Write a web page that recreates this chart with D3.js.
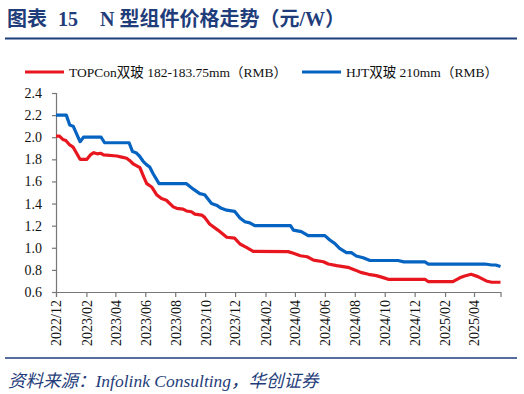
<!DOCTYPE html>
<html>
<head>
<meta charset="utf-8">
<script src="https://cdn.jsdelivr.net/npm/d3@7"></script>
<style>
  html, body { margin: 0; padding: 0; background: #fff; }
  svg { display: block; }
</style>
</head>
<body>
<div id="chart"></div>
<script>
'use strict'

// ---- data ----
var seriesNames = ["TOPCon双玻 182-183.75mm（RMB）", "HJT双玻 210mm（RMB）"];

var topconDates = ["2022-12-01","2022-12-08","2022-12-15","2022-12-21","2022-12-29","2023-01-05","2023-01-19","2023-02-02",
    "2023-02-09","2023-02-16","2023-02-23","2023-03-02","2023-03-08","2023-04-04","2023-04-14","2023-04-24","2023-04-30",
    "2023-05-07","2023-05-11","2023-05-21","2023-05-29","2023-06-04","2023-06-14","2023-06-24","2023-07-04","2023-07-14",
    "2023-07-28","2023-08-04","2023-08-17","2023-08-24","2023-09-03","2023-09-10","2023-09-24","2023-09-30","2023-10-10",
    "2023-10-27","2023-11-14","2023-11-30","2023-12-11","2023-12-24","2024-01-07","2024-03-18","2024-03-29","2024-04-12",
    "2024-04-26","2024-05-09","2024-05-29","2024-06-08","2024-06-25","2024-07-18","2024-08-01","2024-08-15","2024-08-29",
    "2024-09-14","2024-09-28","2024-10-08","2024-12-22","2024-12-29","2025-02-17","2025-03-03","2025-03-13","2025-03-26",
    "2025-04-09","2025-04-26","2025-05-07","2025-05-25"];
var topconPrices = [2.01,2.01,1.98,1.97,1.93,1.91,1.80,1.80,
    1.84,1.86,1.85,1.855,1.84,1.83,1.82,1.81,1.79,
    1.76,1.75,1.725,1.64,1.58,1.55,1.48,1.445,1.43,
    1.37,1.357,1.35,1.333,1.326,1.305,1.296,1.275,1.215,
    1.16,1.095,1.087,1.034,1.004,0.968,0.965,0.95,0.928,
    0.919,0.889,0.874,0.853,0.838,0.823,0.80,0.775,0.76,
    0.748,0.73,0.715,0.715,0.693,0.693,0.728,0.745,0.76,
    0.739,0.70,0.688,0.688];

var hjtDates = ["2022-12-01","2022-12-22","2022-12-29","2023-01-05","2023-01-19","2023-01-26","2023-03-03","2023-03-10",
    "2023-04-29","2023-05-06","2023-05-13","2023-05-20","2023-05-28","2023-06-04","2023-06-10","2023-06-17","2023-06-29",
    "2023-08-24","2023-09-07","2023-09-20","2023-09-30","2023-10-14","2023-10-24","2023-11-03","2023-11-14","2023-11-30",
    "2023-12-11","2023-12-21","2023-12-31","2024-01-10","2024-03-23","2024-03-29","2024-04-14","2024-04-28","2024-06-01",
    "2024-06-11","2024-06-21","2024-07-01","2024-07-15","2024-07-25","2024-08-04","2024-08-18","2024-09-01","2024-10-28",
    "2024-11-09","2024-12-22","2024-12-29","2025-04-23","2025-05-07","2025-05-15","2025-05-25"];
var hjtPrices = [2.20,2.20,2.11,2.10,1.96,2.00,2.00,1.95,
    1.95,1.87,1.86,1.83,1.78,1.75,1.73,1.67,1.58,
    1.58,1.53,1.49,1.48,1.40,1.385,1.357,1.34,1.33,
    1.27,1.236,1.225,1.20,1.20,1.16,1.146,1.11,1.11,
    1.07,1.04,0.995,0.956,0.956,0.926,0.91,0.885,0.885,
    0.872,0.872,0.853,0.853,0.844,0.844,0.83];

var yTicks = [0.6,0.8,1.0,1.2,1.4,1.6,1.8,2.0,2.2,2.4];
var xTickLabels = ["2022/12","2023/02","2023/04","2023/06","2023/08","2023/10","2023/12",
    "2024/02","2024/04","2024/06","2024/08","2024/10","2024/12","2025/02","2025/04"];

var titleParts = ["图表", "15", "N 型组件价格走势（元/W）"];

var seriesColors = ["#E8161E", "#0563C1"];
var navy = "#1F3D7A";
var serif = "'Liberation Serif','Times New Roman','Noto Sans CJK SC',serif";

// ---- canvas ----
var width = 524, height = 394;
var svg = d3.select("#chart").append("svg")
    .attr("width", width)
    .attr("height", height);

// title + rules
var titleX = [7, 58, 100];
svg.append("text")
    .attr("y", 26)
    .attr("font-family", serif)
    .attr("font-weight", "bold")
    .attr("font-size", "20px")
    .attr("fill", navy)
    .selectAll("tspan")
    .data(titleParts)
    .enter()
    .append("tspan")
    .attr("x", function(d, i){ return titleX[i]; })
    .text(function(d){ return d; });

svg.append("line")
    .attr("x1", 5).attr("x2", 517)
    .attr("y1", 38.5).attr("y2", 38.5)
    .attr("stroke", navy)
    .attr("stroke-width", 2);

svg.append("line")
    .attr("x1", 5).attr("x2", 517)
    .attr("y1", 358).attr("y2", 358)
    .attr("stroke", navy)
    .attr("stroke-width", 1.5);

svg.append("text")
    .attr("x", 8)
    .attr("y", 387)
    .attr("font-family", serif)
    .attr("font-style", "italic")
    .attr("font-size", "17.5px")
    .attr("fill", navy)
    .text("资料来源：Infolink Consulting，华创证券");

// ---- scales ----
var parse = d3.timeParse("%Y-%m-%d");
var x = d3.scaleTime()
    .domain([parse("2022-12-01"), parse("2025-05-25")])
    .range([56, 500.5]);
var y = d3.scaleLinear()
    .domain([0.6, 2.4])
    .range([292, 93]);

// ---- axes ----
var yAxis = svg.append("g")
    .attr("transform", "translate(56,0)")
    .call(d3.axisLeft(y).tickValues(yTicks).tickSize(4).tickPadding(10).tickFormat(d3.format(".1f")));

var xTickDates = xTickLabels.map(function(s){ return d3.timeParse("%Y/%m")(s); });
var xAxis = svg.append("g")
    .attr("transform", "translate(0,292)")
    .call(d3.axisBottom(x).tickValues(xTickDates).tickSize(5).tickFormat(d3.timeFormat("%Y/%m")));

[yAxis, xAxis].forEach(function(ax){
    ax.select(".domain").attr("stroke", "#777").attr("stroke-width", 1.2);
    ax.selectAll(".tick line").attr("stroke", "#777").attr("stroke-width", 1.2);
    ax.selectAll("text")
        .attr("font-family", serif)
        .attr("font-size", "14px")
        .attr("fill", "#111");
});

xAxis.selectAll("text")
    .attr("transform", "rotate(-90)")
    .attr("text-anchor", "end")
    .attr("dy", "0.35em")
    .attr("x", -8)
    .attr("y", 0);

// ---- lines ----
var lineGen = d3.line()
    .x(function(d){ return x(d[0]); })
    .y(function(d){ return y(d[1]); });

var series = [
    topconDates.map(function(dt, i){ return [parse(dt), topconPrices[i]]; }),
    hjtDates.map(function(dt, i){ return [parse(dt), hjtPrices[i]]; })
];

svg.append("g")
    .selectAll("path")
    .data(series)
    .enter()
    .append("path")
    .attr("d", lineGen)
    .attr("fill", "none")
    .attr("stroke", function(d, i){ return seriesColors[i]; })
    .attr("stroke-width", 3.2)
    .attr("stroke-linejoin", "round");

// ---- legend ----
var legendX = [25, 302];
var legend = svg.append("g")
    .selectAll("g")
    .data(seriesNames)
    .enter()
    .append("g")
    .attr("transform", function(d, i){ return "translate(" + legendX[i] + ",72)"; });

legend.append("line")
    .attr("x1", 0).attr("x2", 39)
    .attr("stroke", function(d, i){ return seriesColors[i]; })
    .attr("stroke-width", 3.2);

legend.append("text")
    .attr("x", 44)
    .attr("dy", "0.35em")
    .attr("font-family", serif)
    .attr("font-size", "13.5px")
    .attr("fill", "#111")
    .text(function(d){ return d; });
</script>
</body>
</html>
